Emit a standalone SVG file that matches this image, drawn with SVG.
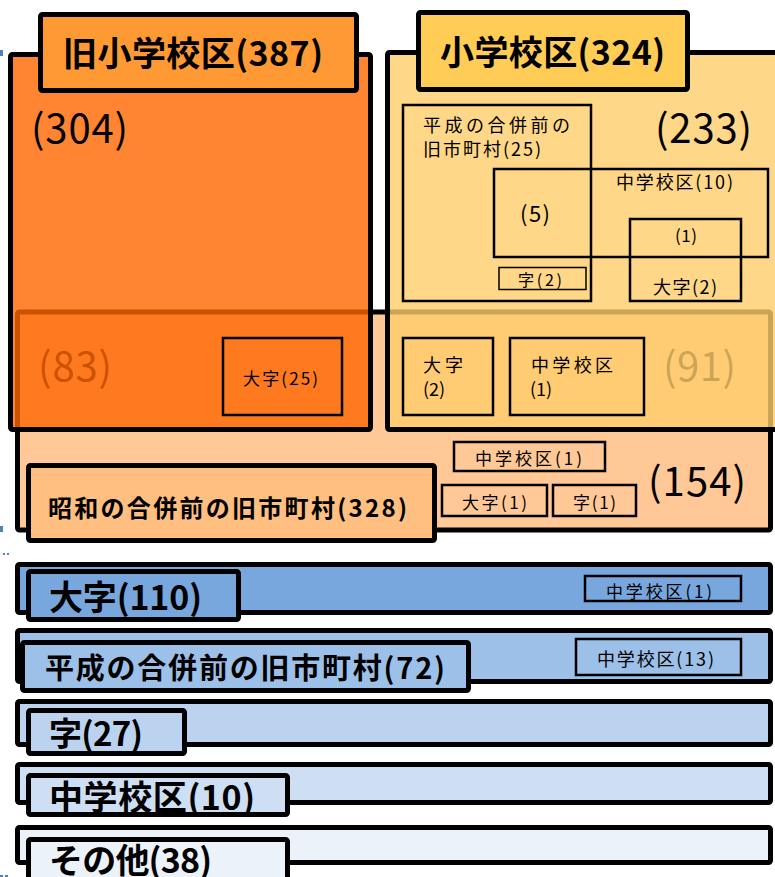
<svg xmlns="http://www.w3.org/2000/svg" width="775" height="877" viewBox="0 0 775 877">
<style>
text{font-family:"Noto Sans CJK JP","Noto Sans",sans-serif;fill:#000}
.b{font-weight:bold}
.big{font-size:40px}
.s{font-size:17px}
.thick{stroke:#000;stroke-width:5;stroke-linejoin:round}
.thin{fill:none;stroke:#000;stroke-width:2.5}
.hair{fill:none;stroke:#000;stroke-width:1.5}
.mark{fill:#4F81BD}
</style>
<rect width="775" height="877" fill="#fff"/>
<g id="marks">
<rect class="mark" x="0" y="50" width="3" height="6"/>
<rect class="mark" x="0" y="526" width="3" height="6"/>
<rect class="mark" x="3" y="553" width="2" height="2"/>
<rect class="mark" x="7" y="553" width="2" height="2"/>
<rect class="mark" x="0" y="875" width="3" height="2"/>
<rect class="mark" x="5" y="875" width="3" height="2"/>
</g>
<g id="showa">
<rect class="thick" x="17.5" y="312" width="753" height="218" rx="2" fill="#FFC896"/>
<text class="big" x="38" y="381" textLength="74">(83)</text>
<text class="big" x="663" y="381" textLength="73">(91)</text>
</g>
<g id="kyu-shogakkoku">
<rect class="thick" x="10.5" y="54.5" width="360" height="375" rx="2" fill="#FF6600" fill-opacity="0.8"/>
<text class="big" x="31" y="143" textLength="97">(304)</text>
</g>
<g id="shogakkoku">
<rect class="thick" x="387.5" y="52.5" width="420" height="377" rx="2" fill="#FFCD6B" fill-opacity="0.8"/>
<text class="big" x="655" y="143" textLength="97">(233)</text>
</g>
<g id="heisei25">
<rect class="thin" x="403" y="105" width="188" height="196"/>
<text x="423" y="132" font-size="18" textLength="147">平成の合併前の</text>
<text x="423" y="156" font-size="18" textLength="118">旧市町村(25)</text>
</g>
<g id="chugakkoku10">
<rect class="thin" x="494" y="169" width="274" height="88"/>
<text x="616" y="189" font-size="18" textLength="117">中学校区(10)</text>
<text x="520" y="222" font-size="22" textLength="30">(5)</text>
</g>
<g id="oaza2-a">
<rect class="thin" x="630" y="219" width="111" height="82"/>
<text class="s" x="675" y="242" textLength="22">(1)</text>
<text x="653" y="294" font-size="18" textLength="64">大字(2)</text>
</g>
<g id="aza2">
<rect class="hair" x="499" y="267.5" width="87" height="22"/>
<text x="518" y="286" font-size="16" textLength="44">字(2)</text>
</g>
<g id="oaza2-b">
<rect class="thin" x="403" y="338" width="90" height="77"/>
<text x="423" y="372" font-size="18" textLength="40">大字</text>
<text x="423" y="396" font-size="18" textLength="22">(2)</text>
</g>
<g id="chugakkoku1-a">
<rect class="thin" x="510" y="338" width="134" height="77"/>
<text x="531" y="372" font-size="18" textLength="82">中学校区</text>
<text x="530" y="396" font-size="18" textLength="22">(1)</text>
</g>
<g id="oaza25">
<rect class="thin" x="223" y="338" width="119" height="77"/>
<text class="s" x="243" y="385" textLength="75">大字(25)</text>
</g>
<g id="chugakkoku1-b">
<rect class="thin" x="454" y="442" width="151" height="29"/>
<text class="s" x="475" y="465" textLength="107">中学校区(1)</text>
</g>
<g id="oaza1">
<rect class="thin" x="442" y="485" width="105" height="31"/>
<text class="s" x="462" y="509" textLength="65">大字(1)</text>
</g>
<g id="aza1">
<rect class="thin" x="553" y="485" width="83" height="31"/>
<text class="s" x="573" y="509" textLength="43">字(1)</text>
</g>
<text class="big" x="648" y="496" textLength="98">(154)</text>
<g id="title-kyu">
<rect class="thick" x="40.5" y="14.5" width="316" height="76" rx="2" fill="#FF9933"/>
<text class="b" x="63" y="66" font-size="34" textLength="260">旧小学校区(387)</text>
</g>
<g id="title-sho">
<rect class="thick" x="418.5" y="12.5" width="269" height="77" rx="2" fill="#FFCC55"/>
<text class="b" x="440" y="65" font-size="34" textLength="225">小学校区(324)</text>
</g>
<g id="title-showa">
<rect class="thick" x="28.5" y="465.5" width="406" height="75" rx="2" fill="#FFBF80"/>
<text class="b" x="48" y="517" font-size="24" textLength="359">昭和の合併前の旧市町村(328)</text>
</g>
<g id="bar-oaza">
<rect class="thick" x="17.5" y="564.5" width="753" height="48" rx="2" fill="#78A7DE"/>
<rect class="thin" x="585" y="576" width="156" height="25"/>
<text class="s" x="606" y="598" textLength="106">中学校区(1)</text>
<rect class="thick" x="28.5" y="571.5" width="210" height="48" rx="2" fill="#78A7DE"/>
<text class="b" x="49" y="610" font-size="34" textLength="153">大字(110)</text>
</g>
<g id="bar-heisei">
<rect class="thick" x="17.5" y="630.5" width="753" height="51" rx="2" fill="#9DC0E8"/>
<rect class="thin" x="576" y="639" width="165" height="36"/>
<text x="597" y="666" font-size="18" textLength="117">中学校区(13)</text>
<rect class="thick" x="22.5" y="642.5" width="446" height="48" rx="2" fill="#9DC0E8"/>
<text class="b" x="45" y="679" font-size="29" textLength="400">平成の合併前の旧市町村(72)</text>
</g>
<g id="bar-aza">
<rect class="thick" x="17.5" y="701.5" width="753" height="43" rx="2" fill="#BCD3EF"/>
<rect class="thick" x="28.5" y="710.5" width="156" height="43" rx="2" fill="#BCD3EF"/>
<text class="b" x="49" y="746" font-size="33" textLength="94">字(27)</text>
</g>
<g id="bar-chu">
<rect class="thick" x="17.5" y="764.5" width="753" height="38" rx="2" fill="#CEDFF4"/>
<rect class="thick" x="28.5" y="775.5" width="259" height="39" rx="2" fill="#CEDFF4"/>
<text class="b" x="49" y="810" font-size="34" textLength="206">中学校区(10)</text>
</g>
<g id="bar-other">
<rect class="thick" x="17.5" y="827.5" width="753" height="35" rx="2" fill="#ECF2FA"/>
<rect class="thick" x="28.5" y="839.5" width="259" height="50" rx="2" fill="#ECF2FA"/>
<text class="b" x="49" y="873" font-size="34" textLength="163">その他(38)</text>
</g>
</svg>
